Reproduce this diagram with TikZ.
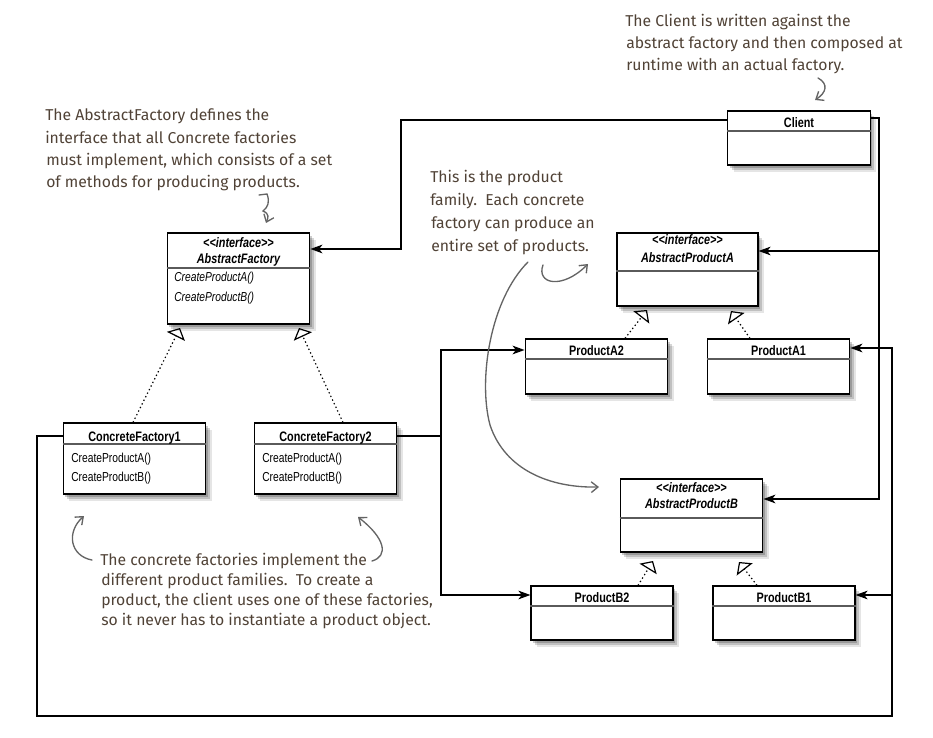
\documentclass[tikz,border=0pt]{standalone}
\usepackage{fontspec}
\setmainfont{Liberation Sans}
\newfontfamily\umlfont{Liberation Sans}[FakeStretch=0.79]
\newfontfamily\notefont{Fira Sans}
\usetikzlibrary{arrows.meta,shadows}
\definecolor{notecol}{RGB}{80,66,54}
\definecolor{curvecol}{RGB}{100,100,100}
\definecolor{divcol}{RGB}{90,90,90}
\begin{document}
\begin{tikzpicture}[x=0.75pt,y=-0.75pt,
  umlbox/.style={draw=black, line width=0.9pt, fill=white, minimum width=107pt, inner sep=0pt,
    general shadow={shadow xshift=1.5pt, shadow yshift=-2pt, opacity=.2, fill=black},
    general shadow={shadow xshift=3pt, shadow yshift=-3.5pt, opacity=.16, fill=black},
    general shadow={shadow xshift=4.5pt, shadow yshift=-5pt, opacity=.1, fill=black}},
  divider/.style={draw=divcol, line width=0.8pt},
  utitle/.style={anchor=base, inner sep=0pt, font=\umlfont\fontsize{10.3pt}{12pt}\selectfont\bfseries},
  ititle/.style={anchor=base, inner sep=0pt, font=\umlfont\fontsize{10.3pt}{12pt}\selectfont\bfseries\itshape},
  umeth/.style={anchor=base west, inner sep=0pt, font=\umlfont\fontsize{9.75pt}{12pt}\selectfont},
  imeth/.style={anchor=base west, inner sep=0pt, font=\umlfont\fontsize{9.75pt}{12pt}\selectfont\itshape},
  conn/.style={draw=black, line width=1.1pt, line join=miter},
  arr/.style={conn, -{Stealth[length=9pt, width=6.5pt, inset=2.5pt]}},
  gen/.style={draw=black, line width=0.9pt, dash pattern=on 1pt off 2pt,
    -{Triangle[open, length=7pt, width=15pt, line width=0.9pt]}},
  note/.style={anchor=base west, inner sep=0pt, text=notecol, font=\notefont\fontsize{11.8pt}{14pt}\selectfont},
  hand/.style={draw=curvecol, line width=1pt, line cap=round, -{Straight Barb[length=5pt, width=8pt]}}
]
\useasboundingbox (0,0) rectangle (933,738);

% ---------- boxes ----------
\node[umlbox, minimum height=40.5pt] (client) at (799,138) {};
\draw[divider] (client.west |- 0,131) -- (client.east |- 0,131);
\node[utitle] (clientT) at (799,128) {Client};

\node[umlbox, minimum height=68.25pt] (af) at (238.5,278.5) {};
\draw[divider] (af.west |- 0,268) -- (af.east |- 0,268);
\node[ititle] (afS) at (238.5,248) {<\kern0pt<interface>\kern0pt>};
\node[ititle] (afT) at (238.5,264) {AbstractFactory};
\node[imeth] (afM1) at (174,282) {CreateProductA()};
\node[imeth] (afM2) at (174,301) {CreateProductB()};

\node[umlbox, minimum height=53.25pt] (cf1) at (134.5,458.5) {};
\draw[divider] (cf1.west |- 0,444) -- (cf1.east |- 0,444);
\node[utitle] (cf1T) at (134.5,441.5) {ConcreteFactory1};
\node[umeth] (cf1M1) at (71,462) {CreateProductA()};
\node[umeth] (cf1M2) at (71,481.5) {CreateProductB()};

\node[umlbox, minimum height=53.25pt] (cf2) at (325.5,458.5) {};
\draw[divider] (cf2.west |- 0,444) -- (cf2.east |- 0,444);
\node[utitle] (cf2T) at (325.5,441.5) {ConcreteFactory2};
\node[umeth] (cf2M1) at (262,462) {CreateProductA()};
\node[umeth] (cf2M2) at (262,481.5) {CreateProductB()};

\node[umlbox, minimum height=54.75pt, minimum width=105.75pt] (apa) at (687.5,269.5) {};
\draw[divider] (apa.west |- 0,271) -- (apa.east |- 0,271);
\node[ititle] (apaS) at (687.5,245) {<\kern0pt<interface>\kern0pt>};
\node[ititle] (apaT) at (687.5,262.5) {AbstractProductA};

\node[umlbox, minimum height=41.25pt] (pa2) at (596.5,366.5) {};
\draw[divider] (pa2.west |- 0,359) -- (pa2.east |- 0,359);
\node[utitle] (pa2T) at (596.5,356) {ProductA2};

\node[umlbox, minimum height=41.25pt] (pa1) at (778.5,366.5) {};
\draw[divider] (pa1.west |- 0,359) -- (pa1.east |- 0,359);
\node[utitle] (pa1T) at (778.5,356) {ProductA1};

\node[umlbox, minimum height=54.75pt] (apb) at (691.5,515.5) {};
\draw[divider] (apb.west |- 0,518) -- (apb.east |- 0,518);
\node[ititle] (apbS) at (691.5,492) {<\kern0pt<interface>\kern0pt>};
\node[ititle] (apbT) at (691.5,508) {AbstractProductB};

\node[umlbox, minimum height=40.5pt, minimum width=106.5pt] (pb2) at (602,613) {};
\draw[divider] (pb2.west |- 0,606) -- (pb2.east |- 0,606);
\node[utitle] (pb2T) at (602,602.5) {ProductB2};

\node[umlbox, minimum height=40.5pt, minimum width=106.5pt] (pb1) at (784,613) {};
\draw[divider] (pb1.west |- 0,606) -- (pb1.east |- 0,606);
\node[utitle] (pb1T) at (784,602.5) {ProductB1};

% ---------- generalization (dotted) ----------
\coordinate (tAF1) at (180,328);
\coordinate (tAF2) at (299,328);
\coordinate (tA2) at (647,310);
\coordinate (tA1) at (731,311);
\coordinate (tB2) at (653,561);
\coordinate (tB1) at (739,562);
\draw[gen] (cf1.north -| 133,0) -- (tAF1);
\draw[gen] (cf2.north -| 343,0) -- (tAF2);
\draw[gen] (pa2.north -| 625,0) -- (tA2);
\draw[gen] (pa1.north -| 750,0) -- (tA1);
\draw[gen] (pb2.north -| 638,0) -- (tB2);
\draw[gen] (pb1.north -| 757,0) -- (tB1);

% ---------- associations ----------
\draw[arr] (client.west |- 0,120) -- (401,120) -- (401,249) -- (af.east |- 0,249);
\draw[arr] (client.east |- 0,118) -- (879,118) -- (879,499) -- (apb.east |- 0,499);
\draw[arr] (879,251) -- (apa.east |- 0,251);
\draw[arr] (cf1.west |- 0,436) -- (37,436) -- (37,716) -- (892,716) -- (892,348) -- (pa1.east |- 0,348);
\draw[arr] (892,595) -- (pb1.east |- 0,595);
\draw[arr] (cf2.east |- 0,436) -- (441,436) -- (441,350) -- (pa2.west |- 0,350);
\draw[arr] (441,436) -- (441,595) -- (pb2.west |- 0,595);

% ---------- annotations ----------
\node[note] (n1a) at (625,27) {The Client is written against the};
\node[note] (n1b) at (626,49) {abstract factory and then composed at};
\node[note] (n1c) at (626,71) {runtime with an actual factory.};
\draw[hand] (818,78) .. controls (829,84) and (826,93) .. (815,100);

\node[note] (n2a) at (45,121) {The AbstractFactory defines the};
\node[note] (n2b) at (45,144) {interface that all Concrete factories};
\node[note] (n2c) at (46,166) {must implement, which consists of a set};
\node[note] (n2d) at (46,188) {of methods for producing products.};
\draw[hand] (259,195) -- (267,194) .. controls (270,202) and (268,207) .. (263,211) .. controls (270,214) and (268,218) .. (266,223);

\node[note] (n3a) at (430,183) {This is the product};
\node[note] (n3b) at (430,206) {family.\ \ Each concrete};
\node[note] (n3c) at (431,229) {factory can produce an};
\node[note] (n3d) at (431,252) {entire set of products.};
\draw[hand] (543,265) .. controls (536,284) and (562,290) .. (588,264);
\draw[hand] (528,262) .. controls (490,300) and (478,380) .. (490,425) .. controls (505,470) and (550,488) .. (599,487);

\node[note] (n4a) at (100,565) {The concrete factories implement the};
\node[note] (n4b) at (101,585) {different product families.\ \ To create a};
\node[note] (n4c) at (101,605) {product, the client uses one of these factories,};
\node[note] (n4d) at (101,625) {so it never has to instantiate a product object.};
\draw[hand] (92,560) .. controls (70,556) and (66,532) .. (84,516);
\draw[hand] (372,561) .. controls (389,556) and (385,538) .. (358,517);
\end{tikzpicture}
\end{document}
